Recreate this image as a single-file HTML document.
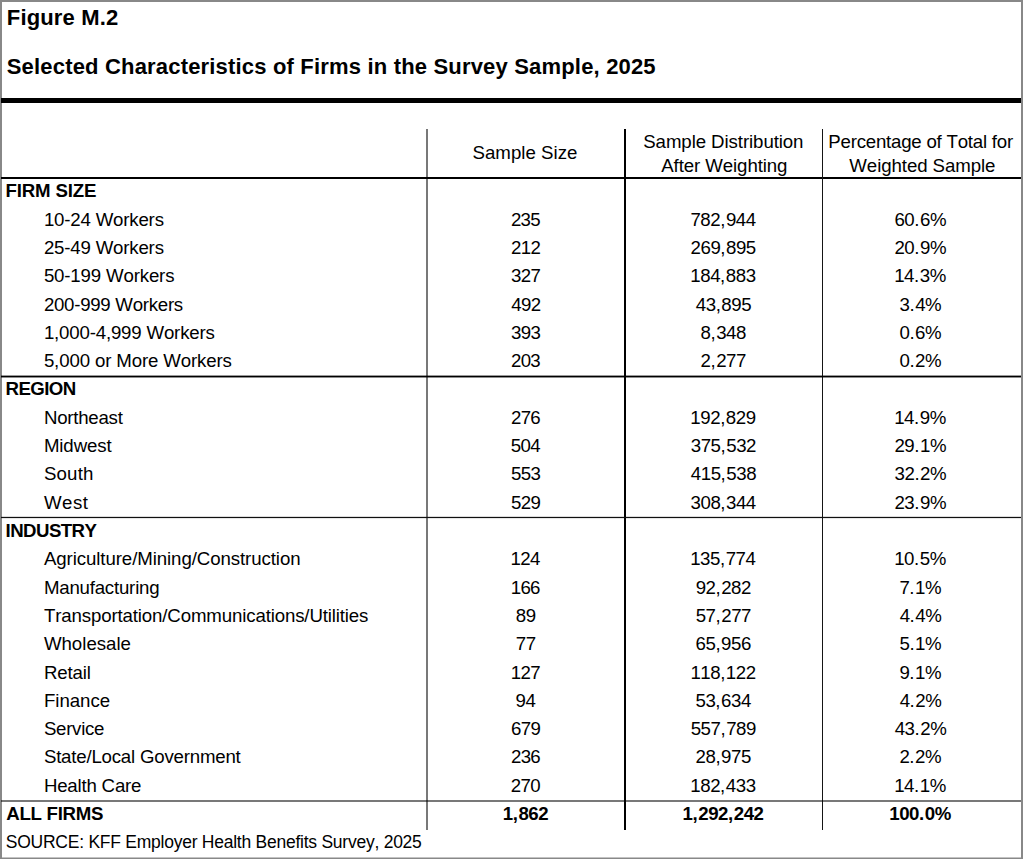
<!DOCTYPE html>
<html><head><meta charset="utf-8"><title>Figure M.2</title>
<style>
html,body{margin:0;padding:0;background:#fff;}
body{width:1023px;height:859px;position:relative;overflow:hidden;font-family:"Liberation Sans",sans-serif;color:#000;}
#ln{position:absolute;left:0;top:0;}
.t{position:absolute;white-space:nowrap;font-kerning:none;line-height:24px;margin:0;padding:0;}
.b{font-weight:bold;}
i{font-style:normal;}
</style></head><body>
<svg id="ln" width="1023" height="859" viewBox="0 0 1023 859">
<rect x="0" y="0" width="1023" height="859" fill="#fff"/>
<g fill="#888888">
<rect x="0" y="0" width="1023" height="2"/>
<rect x="0" y="0" width="2" height="859"/>
<rect x="1021" y="0" width="2" height="859"/>
<rect x="0" y="857.5" width="1023" height="1.5"/>
</g>
<g shape-rendering="crispEdges" fill="#000">
<rect x="1" y="98" width="1020" height="5"/>
<rect x="1" y="177" width="1020" height="2"/>
<rect x="624" y="129" width="2" height="701"/>
<rect x="822" y="129" width="1" height="701" fill="#151515"/>
<rect x="426" y="129" width="2" height="701" fill-opacity="0.53"/>
<rect x="1" y="800" width="1020" height="2" fill-opacity="0.53"/>
</g>
<rect x="1" y="375.6" width="1020" height="1.85" fill="#000"/>
<rect x="1" y="516.85" width="1020" height="1.25" fill="#101010"/>

</svg>

<div class="t b" style="left:6.83px;top:6px;font-size:22.00px;letter-spacing:0.149px">Figure M.2</div>
<div class="t b" style="left:6.77px;top:55px;font-size:22.00px;letter-spacing:0.179px">Selected Characteristics of Firms in the Survey Sample, 2025</div>
<div class="t" style="left:472.45px;top:141px;font-size:18.67px;letter-spacing:0.027px">Sample Size</div>
<div class="t" style="left:643.25px;top:130px;font-size:18.67px;letter-spacing:-0.084px">Sample Distribution</div>
<div class="t" style="left:661.26px;top:154px;font-size:18.67px;letter-spacing:-0.093px">After Weighting</div>
<div class="t" style="left:828.27px;top:130px;font-size:18.67px;letter-spacing:-0.222px">Percentage of Total for</div>
<div class="t" style="left:849.32px;top:154px;font-size:18.67px;letter-spacing:-0.082px">Weighted Sample</div>
<div class="t b" style="left:5.60px;top:179px;font-size:18.67px;letter-spacing:-0.185px">FIRM SIZE</div>
<div class="t" style="left:43.90px;top:208px;font-size:18.67px;letter-spacing:-0.188px">10-24 Workers</div>
<div class="t" style="left:510.90px;top:208px;font-size:18.67px;letter-spacing:-0.650px">235</div>
<div class="t" style="left:690.43px;top:208px;font-size:18.67px;letter-spacing:-0.450px">782<i style="letter-spacing:0.50px">,</i>944</div>
<div class="t" style="left:894.41px;top:208px;font-size:18.67px;letter-spacing:-0.450px">60<i style="letter-spacing:0.50px">.</i>6%</div>
<div class="t" style="left:43.90px;top:236px;font-size:18.67px;letter-spacing:-0.188px">25-49 Workers</div>
<div class="t" style="left:510.97px;top:236px;font-size:18.67px;letter-spacing:-0.650px">212</div>
<div class="t" style="left:690.55px;top:236px;font-size:18.67px;letter-spacing:-0.450px">269<i style="letter-spacing:0.50px">,</i>895</div>
<div class="t" style="left:894.42px;top:236px;font-size:18.67px;letter-spacing:-0.450px">20<i style="letter-spacing:0.50px">.</i>9%</div>
<div class="t" style="left:43.90px;top:264px;font-size:18.67px;letter-spacing:-0.165px">50-199 Workers</div>
<div class="t" style="left:511.09px;top:264px;font-size:18.67px;letter-spacing:-0.650px">327</div>
<div class="t" style="left:690.33px;top:264px;font-size:18.67px;letter-spacing:-0.450px">184<i style="letter-spacing:0.50px">,</i>883</div>
<div class="t" style="left:894.18px;top:264px;font-size:18.67px;letter-spacing:-0.450px">14<i style="letter-spacing:0.50px">.</i>3%</div>
<div class="t" style="left:43.90px;top:293px;font-size:18.67px;letter-spacing:-0.273px">200-999 Workers</div>
<div class="t" style="left:511.23px;top:293px;font-size:18.67px;letter-spacing:-0.650px">492</div>
<div class="t" style="left:695.78px;top:293px;font-size:18.67px;letter-spacing:-0.450px">43<i style="letter-spacing:0.50px">,</i>895</div>
<div class="t" style="left:899.50px;top:293px;font-size:18.67px;letter-spacing:-0.450px">3<i style="letter-spacing:0.50px">.</i>4%</div>
<div class="t" style="left:43.90px;top:321px;font-size:18.67px;letter-spacing:-0.181px">1,000-4,999 Workers</div>
<div class="t" style="left:511.03px;top:321px;font-size:18.67px;letter-spacing:-0.650px">393</div>
<div class="t" style="left:700.56px;top:321px;font-size:18.67px;letter-spacing:-0.450px">8<i style="letter-spacing:0.50px">,</i>348</div>
<div class="t" style="left:899.49px;top:321px;font-size:18.67px;letter-spacing:-0.450px">0<i style="letter-spacing:0.50px">.</i>6%</div>
<div class="t" style="left:43.90px;top:349px;font-size:18.67px;letter-spacing:-0.142px">5,000 or More Workers</div>
<div class="t" style="left:510.92px;top:349px;font-size:18.67px;letter-spacing:-0.650px">203</div>
<div class="t" style="left:700.56px;top:349px;font-size:18.67px;letter-spacing:-0.450px">2<i style="letter-spacing:0.50px">,</i>277</div>
<div class="t" style="left:899.49px;top:349px;font-size:18.67px;letter-spacing:-0.450px">0<i style="letter-spacing:0.50px">.</i>2%</div>
<div class="t b" style="left:5.60px;top:377px;font-size:18.67px;letter-spacing:-0.598px">REGION</div>
<div class="t" style="left:43.90px;top:406px;font-size:18.67px;letter-spacing:-0.238px">Northeast</div>
<div class="t" style="left:510.92px;top:406px;font-size:18.67px;letter-spacing:-0.650px">276</div>
<div class="t" style="left:690.36px;top:406px;font-size:18.67px;letter-spacing:-0.450px">192<i style="letter-spacing:0.50px">,</i>829</div>
<div class="t" style="left:894.18px;top:406px;font-size:18.67px;letter-spacing:-0.450px">14<i style="letter-spacing:0.50px">.</i>9%</div>
<div class="t" style="left:43.90px;top:434px;font-size:18.67px;letter-spacing:-0.106px">Midwest</div>
<div class="t" style="left:510.87px;top:434px;font-size:18.67px;letter-spacing:-0.650px">504</div>
<div class="t" style="left:690.75px;top:434px;font-size:18.67px;letter-spacing:-0.450px">375<i style="letter-spacing:0.50px">,</i>532</div>
<div class="t" style="left:894.42px;top:434px;font-size:18.67px;letter-spacing:-0.450px">29<i style="letter-spacing:0.50px">.</i>1%</div>
<div class="t" style="left:43.90px;top:462px;font-size:18.67px;letter-spacing:0.181px">South</div>
<div class="t" style="left:511.01px;top:462px;font-size:18.67px;letter-spacing:-0.650px">553</div>
<div class="t" style="left:690.82px;top:462px;font-size:18.67px;letter-spacing:-0.450px">415<i style="letter-spacing:0.50px">,</i>538</div>
<div class="t" style="left:894.53px;top:462px;font-size:18.67px;letter-spacing:-0.450px">32<i style="letter-spacing:0.50px">.</i>2%</div>
<div class="t" style="left:43.90px;top:491px;font-size:18.67px;letter-spacing:0.503px">West</div>
<div class="t" style="left:511.04px;top:491px;font-size:18.67px;letter-spacing:-0.650px">529</div>
<div class="t" style="left:690.55px;top:491px;font-size:18.67px;letter-spacing:-0.450px">308<i style="letter-spacing:0.50px">,</i>344</div>
<div class="t" style="left:894.42px;top:491px;font-size:18.67px;letter-spacing:-0.450px">23<i style="letter-spacing:0.50px">.</i>9%</div>
<div class="t b" style="left:5.60px;top:519px;font-size:18.67px;letter-spacing:-0.575px">INDUSTRY</div>
<div class="t" style="left:43.90px;top:547px;font-size:18.67px;letter-spacing:-0.084px">Agriculture/Mining/Construction</div>
<div class="t" style="left:510.54px;top:547px;font-size:18.67px;letter-spacing:-0.650px">124</div>
<div class="t" style="left:690.19px;top:547px;font-size:18.67px;letter-spacing:-0.450px">135<i style="letter-spacing:0.50px">,</i>774</div>
<div class="t" style="left:894.18px;top:547px;font-size:18.67px;letter-spacing:-0.450px">10<i style="letter-spacing:0.50px">.</i>5%</div>
<div class="t" style="left:43.90px;top:576px;font-size:18.67px;letter-spacing:-0.209px">Manufacturing</div>
<div class="t" style="left:510.67px;top:576px;font-size:18.67px;letter-spacing:-0.650px">166</div>
<div class="t" style="left:695.63px;top:576px;font-size:18.67px;letter-spacing:-0.450px">92<i style="letter-spacing:0.50px">,</i>282</div>
<div class="t" style="left:899.38px;top:576px;font-size:18.67px;letter-spacing:-0.450px">7<i style="letter-spacing:0.50px">.</i>1%</div>
<div class="t" style="left:43.90px;top:604px;font-size:18.67px;letter-spacing:-0.136px">Transportation/Communications/Utilities</div>
<div class="t" style="left:515.78px;top:604px;font-size:18.67px;letter-spacing:-0.450px">89</div>
<div class="t" style="left:695.69px;top:604px;font-size:18.67px;letter-spacing:-0.450px">57<i style="letter-spacing:0.50px">,</i>277</div>
<div class="t" style="left:899.64px;top:604px;font-size:18.67px;letter-spacing:-0.450px">4<i style="letter-spacing:0.50px">.</i>4%</div>
<div class="t" style="left:43.90px;top:632px;font-size:18.67px;letter-spacing:-0.005px">Wholesale</div>
<div class="t" style="left:515.73px;top:632px;font-size:18.67px;letter-spacing:-0.450px">77</div>
<div class="t" style="left:695.53px;top:632px;font-size:18.67px;letter-spacing:-0.450px">65<i style="letter-spacing:0.50px">,</i>956</div>
<div class="t" style="left:899.48px;top:632px;font-size:18.67px;letter-spacing:-0.450px">5<i style="letter-spacing:0.50px">.</i>1%</div>
<div class="t" style="left:43.90px;top:661px;font-size:18.67px;letter-spacing:-0.117px">Retail</div>
<div class="t" style="left:510.73px;top:661px;font-size:18.67px;letter-spacing:-0.650px">127</div>
<div class="t" style="left:690.39px;top:661px;font-size:18.67px;letter-spacing:-0.450px">118<i style="letter-spacing:0.50px">,</i>122</div>
<div class="t" style="left:899.42px;top:661px;font-size:18.67px;letter-spacing:-0.450px">9<i style="letter-spacing:0.50px">.</i>1%</div>
<div class="t" style="left:43.90px;top:689px;font-size:18.67px;letter-spacing:-0.015px">Finance</div>
<div class="t" style="left:515.58px;top:689px;font-size:18.67px;letter-spacing:-0.450px">94</div>
<div class="t" style="left:695.50px;top:689px;font-size:18.67px;letter-spacing:-0.450px">53<i style="letter-spacing:0.50px">,</i>634</div>
<div class="t" style="left:899.64px;top:689px;font-size:18.67px;letter-spacing:-0.450px">4<i style="letter-spacing:0.50px">.</i>2%</div>
<div class="t" style="left:43.90px;top:717px;font-size:18.67px;letter-spacing:-0.271px">Service</div>
<div class="t" style="left:510.94px;top:717px;font-size:18.67px;letter-spacing:-0.650px">679</div>
<div class="t" style="left:690.70px;top:717px;font-size:18.67px;letter-spacing:-0.450px">557<i style="letter-spacing:0.50px">,</i>789</div>
<div class="t" style="left:894.67px;top:717px;font-size:18.67px;letter-spacing:-0.450px">43<i style="letter-spacing:0.50px">.</i>2%</div>
<div class="t" style="left:43.90px;top:745px;font-size:18.67px;letter-spacing:-0.205px">State/Local Government</div>
<div class="t" style="left:510.92px;top:745px;font-size:18.67px;letter-spacing:-0.650px">236</div>
<div class="t" style="left:695.52px;top:745px;font-size:18.67px;letter-spacing:-0.450px">28<i style="letter-spacing:0.50px">,</i>975</div>
<div class="t" style="left:899.39px;top:745px;font-size:18.67px;letter-spacing:-0.450px">2<i style="letter-spacing:0.50px">.</i>2%</div>
<div class="t" style="left:43.90px;top:774px;font-size:18.67px;letter-spacing:-0.199px">Health Care</div>
<div class="t" style="left:510.87px;top:774px;font-size:18.67px;letter-spacing:-0.650px">270</div>
<div class="t" style="left:690.33px;top:774px;font-size:18.67px;letter-spacing:-0.450px">182<i style="letter-spacing:0.50px">,</i>433</div>
<div class="t" style="left:894.18px;top:774px;font-size:18.67px;letter-spacing:-0.450px">14<i style="letter-spacing:0.50px">.</i>1%</div>
<div class="t b" style="left:6.20px;top:802px;font-size:18.67px;letter-spacing:-0.266px">ALL FIRMS</div>
<div class="t b" style="left:502.75px;top:802px;font-size:18.67px;letter-spacing:-0.450px">1<i style="letter-spacing:0.50px">,</i>862</div>
<div class="t b" style="left:682.61px;top:802px;font-size:18.67px;letter-spacing:-0.450px">1<i style="letter-spacing:0.50px">,</i>292<i style="letter-spacing:0.50px">,</i>242</div>
<div class="t b" style="left:889.25px;top:802px;font-size:18.67px;letter-spacing:-0.450px">100<i style="letter-spacing:0.50px">.</i>0%</div>
<div class="t" style="left:5.81px;top:830px;font-size:17.50px;letter-spacing:-0.248px">SOURCE: KFF Employer Health Benefits Survey, 2025</div>
</body></html>
